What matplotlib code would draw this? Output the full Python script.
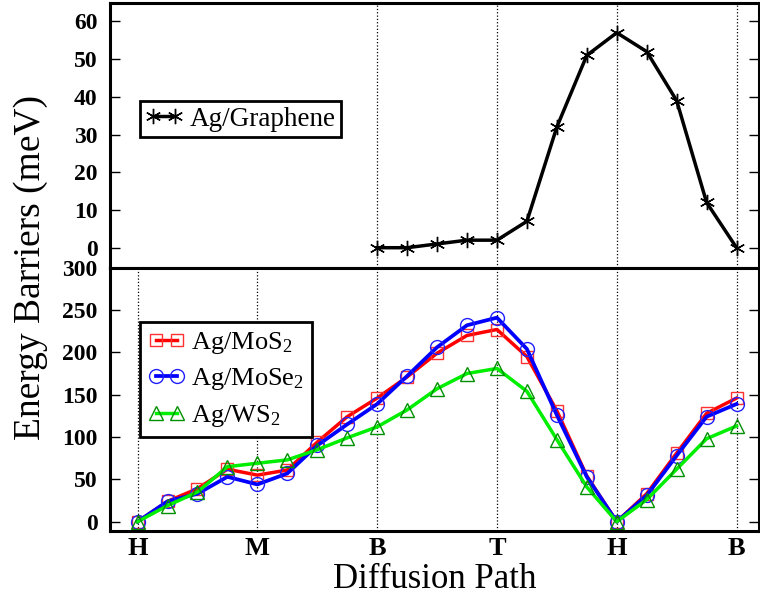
import numpy as np
import matplotlib
matplotlib.use("Agg")
import matplotlib.pyplot as plt

# ==========================================
# 1. DATA
# ==========================================
path_labels = ["H", "M", "B", "T", "H", "B"]
path_ticks = [0, 4, 8, 12, 16, 20]

x_graphene = np.arange(8, 21)
e_graphene = [0, 0, 1, 2, 2, 7, 32, 51, 57, 52, 39, 12, 0]

x_tmd = np.arange(0, 21)
e_mos2 = [0, 24, 39, 62, 55, 61, 94, 124, 146, 171, 199, 220, 227,
          195, 131, 54, 0, 33, 81, 128, 146]
e_mose2 = [0, 24, 33, 53, 44, 57, 90, 115, 139, 172, 206, 232, 241,
           204, 126, 53, 0, 31, 78, 124, 139]
e_ws2 = [0, 19, 35, 65, 69, 73, 85, 99, 112, 132, 157, 175, 181,
         154, 97, 41, 0, 26, 62, 98, 113]

# ==========================================
# 2. STYLE
# ==========================================
plt.rcParams['font.family'] = ['Liberation Serif', 'DejaVu Serif']
plt.rcParams['mathtext.fontset'] = 'custom'
plt.rcParams['mathtext.rm'] = 'Liberation Serif'
plt.rcParams['mathtext.it'] = 'Liberation Serif:italic'
plt.rcParams['axes.linewidth'] = 2.2

fig = plt.figure(figsize=(7.6, 6.02), dpi=100)
W, H = 760.0, 602.0
left, right = 110 / W, 759 / W
ax_top = fig.add_axes([left, 1 - 267.7 / H, right - left, (267.7 - 3.3) / H])
ax_bot = fig.add_axes([left, 1 - 531 / H, right - left, (531 - 267.7) / H])

xlim = (-0.92, 20.75)

# ==========================================
# 3. TOP PANEL: GRAPHENE
# ==========================================
for xt in path_ticks[2:]:
    ax_top.axvline(xt, color='black', ls=':', lw=0.9, zorder=0)
ax_top.plot(x_graphene, e_graphene, color='black', lw=2.5,
            marker=(6, 2, 0), markersize=11, markeredgewidth=1.0,
            label='Ag/Graphene')
ax_top.set_xlim(*xlim)
ax_top.set_ylim(-5.3, 64.8)
ax_top.set_yticks([0, 10, 20, 30, 40, 50, 60])
ax_top.set_xticks([])
leg = ax_top.legend(loc='upper left', bbox_to_anchor=(0.046, 0.63),
                    borderaxespad=0, numpoints=2, handlelength=1.4,
                    fontsize=19.5, fancybox=False, edgecolor='black',
                    framealpha=1, handletextpad=0.25, borderpad=0.2)
leg.get_frame().set_linewidth(2.0)

# ==========================================
# 4. BOTTOM PANEL: TMDs
# ==========================================
for xt in path_ticks:
    ax_bot.axvline(xt, color='black', ls=':', lw=0.9, zorder=0)
ax_bot.plot(x_tmd, e_mos2, color='#ff0000', lw=2.5, marker='s',
            markersize=9, markerfacecolor='none', markeredgecolor='#ff3030',
            markeredgewidth=1.0, label='Ag/MoS$_2$')
ax_bot.plot(x_tmd, e_mose2, color='#0000ff', lw=2.7, marker='o',
            markersize=10, markerfacecolor='none', markeredgecolor='#2020ff',
            markeredgewidth=1.0, label='Ag/MoSe$_2$')
ax_bot.plot(x_tmd, e_ws2, color='#00ee00', lw=2.5, marker='^',
            markersize=10, markerfacecolor='none', markeredgecolor='#009000',
            markeredgewidth=1.0, label='Ag/WS$_2$')
ax_bot.set_xlim(*xlim)
ax_bot.set_ylim(-11, 300)
ax_bot.set_yticks([0, 50, 100, 150, 200, 250, 300])
ax_bot.set_xticks(path_ticks)
ax_bot.set_xticklabels(path_labels)
leg = ax_bot.legend(loc='upper left', bbox_to_anchor=(0.046, 0.794),
                    borderaxespad=0, numpoints=2, handlelength=1.4,
                    fontsize=19, fancybox=False, edgecolor='black',
                    framealpha=1, handletextpad=0.25, borderpad=0.3,
                    labelspacing=0.4)
leg.get_frame().set_linewidth(2.0)

for ax in (ax_top, ax_bot):
    ax.tick_params(axis='y', which='both', direction='in', left=True,
                   right=True, length=7, width=1.0, pad=9, labelsize=17)
    ax.tick_params(axis='x', length=0, pad=4, labelsize=19)
    for lab in ax.get_yticklabels() + ax.get_xticklabels():
        lab.set_fontweight('bold')

fig.text(0.04, 1 - 267.7 / H, 'Energy Barriers (meV)', rotation=90,
         ha='center', va='center', fontsize=27)
fig.text((110 + 759) / 2 / W, 1 - 580 / H, 'Diffusion Path',
         ha='center', va='center', fontsize=25)

fig.savefig('out.png', dpi=100)
